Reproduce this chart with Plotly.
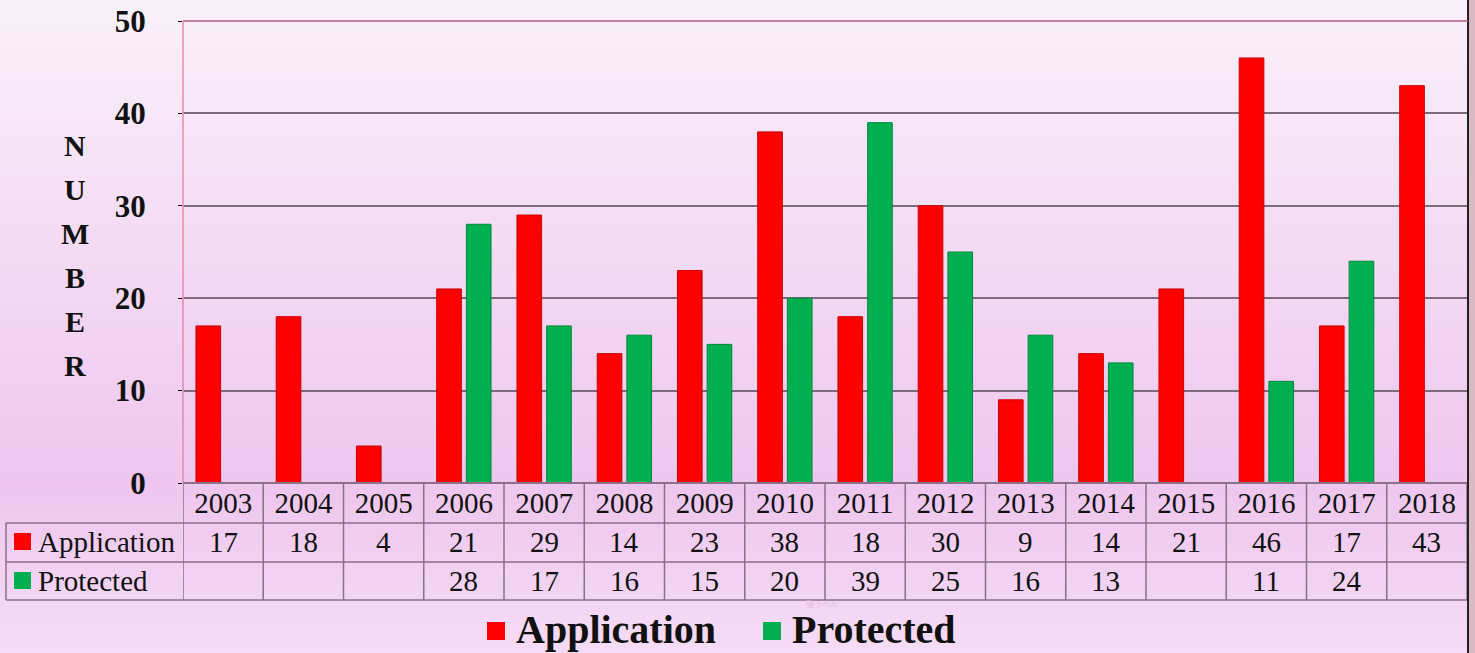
import plotly.graph_objects as go

years = ["2003", "2004", "2005", "2006", "2007", "2008", "2009", "2010",
         "2011", "2012", "2013", "2014", "2015", "2016", "2017", "2018"]
application = [17, 18, 4, 21, 29, 14, 23, 38, 18, 30, 9, 14, 21, 46, 17, 43]
protected = [None, None, None, 28, 17, 16, 15, 20, 39, 25, 16, 13, None, 11, 24, None]
y_ticks = [0, 10, 20, 30, 40, 50]
y_title = "NUMBER"

W, H = 1475, 653
L, R, T, B = 183, 1467, 21, 483
SERIF = "Liberation Serif"
RED, GREEN = "#ff0000", "#00b050"


def px2x(px):
    return (px - L) / (R - L)


def py2y(py):
    return (B - py) / (B - T)


def hexrgb(h):
    h = h.lstrip("#")
    return [int(h[i:i + 2], 16) for i in (0, 2, 4)]


def lerp_color(py):
    stops = [(0, "#faf1fa"), (483, "#eec6ee"), (653, "#f6dcf6")]
    for (y0, c0), (y1, c1) in zip(stops[:-1], stops[1:]):
        if y0 <= py <= y1:
            t = (py - y0) / (y1 - y0)
            a, b = hexrgb(c0), hexrgb(c1)
            return "rgb(%d,%d,%d)" % tuple(round(a[i] + (b[i] - a[i]) * t) for i in range(3))
    return stops[-1][1]


fig = go.Figure()
fig.add_trace(go.Bar(name="Application", x=years, y=application,
                     marker=dict(color=RED, line=dict(color="#c80000", width=1))))
fig.add_trace(go.Bar(name="Protected", x=years, y=protected,
                     marker=dict(color=GREEN, line=dict(color="#00883c", width=1))))

shapes = []
# background gradient strips
step = 7
for py in range(-7, H, step):
    shapes.append(dict(type="rect", xref="paper", yref="paper", layer="below",
                       x0=px2x(-2), x1=px2x(W + 2), y0=py2y(py + step + 0.5), y1=py2y(py),
                       fillcolor=lerp_color(max(py, 0) + step / 2), line=dict(width=0)))
# right photo edge
shapes.append(dict(type="rect", xref="paper", yref="paper", layer="above",
                   x0=px2x(1468), x1=px2x(W + 2), y0=py2y(H + 2), y1=py2y(-2),
                   fillcolor="#d9b9c3", line=dict(width=0)))
shapes.append(dict(type="line", xref="paper", yref="paper", layer="above",
                   x0=px2x(1468), x1=px2x(1468), y0=py2y(H + 2), y1=py2y(-2),
                   line=dict(color="#222222", width=2)))
# plot frame: top and left
shapes.append(dict(type="line", xref="paper", yref="paper", x0=0, x1=px2x(1468), y0=1, y1=1,
                   line=dict(color="#b85a7a", width=1.5)))
shapes.append(dict(type="line", xref="paper", yref="paper", x0=0, x1=0, y0=0, y1=1,
                   line=dict(color="#e88aac", width=1.5)))

GRID = "#8a7088"
n = len(years)
# table vertical lines
for i in range(n + 1):
    shapes.append(dict(type="line", xref="x", yref="paper", x0=i - 0.5, x1=i - 0.5,
                       y0=py2y(600), y1=py2y(483), line=dict(color=GRID, width=1.5)))
shapes.append(dict(type="line", xref="paper", yref="paper", x0=px2x(6), x1=px2x(6),
                   y0=py2y(600), y1=py2y(523), line=dict(color=GRID, width=1.5)))
# table horizontal lines
shapes.append(dict(type="line", xref="paper", yref="paper", x0=0, x1=1,
                   y0=0, y1=0, line=dict(color=GRID, width=2)))
for py in (523, 562, 600):
    shapes.append(dict(type="line", xref="paper", yref="paper", x0=px2x(6), x1=1,
                       y0=py2y(py), y1=py2y(py), line=dict(color=GRID, width=1.5)))

annotations = []
# table rows
rows = [("Application", application, RED, 542), ("Protected", protected, GREEN, 581)]
for name, vals, col, cy in rows:
    shapes.append(dict(type="rect", xref="paper", yref="paper",
                       x0=px2x(14), x1=px2x(31), y0=py2y(cy + 8), y1=py2y(cy - 9),
                       fillcolor=col, line=dict(width=0)))
    annotations.append(dict(text=name, xref="paper", yref="paper", x=px2x(36), y=py2y(cy),
                            xanchor="left", yanchor="middle", showarrow=False,
                            font=dict(family=SERIF, size=29, color="#111111")))
    for i, v in enumerate(vals):
        if v is None:
            continue
        annotations.append(dict(text=str(v), xref="x", yref="paper", x=i, y=py2y(cy),
                                xanchor="center", yanchor="middle", showarrow=False,
                                font=dict(family=SERIF, size=29, color="#111111")))

# y title stacked letters
for k, ch in enumerate(y_title):
    annotations.append(dict(text="<b>%s</b>" % ch, xref="paper", yref="paper",
                            x=px2x(75), y=py2y(145 + k * 44), xanchor="center", yanchor="middle",
                            showarrow=False, font=dict(family=SERIF, size=30, color="#111111")))

# legend
for name, col, sx in (("Application", RED, 487), ("Protected", GREEN, 763)):
    shapes.append(dict(type="rect", xref="paper", yref="paper",
                       x0=px2x(sx), x1=px2x(sx + 18), y0=py2y(640), y1=py2y(622),
                       fillcolor=col, line=dict(width=0)))
    annotations.append(dict(text="<b>%s</b>" % name, xref="paper", yref="paper",
                            x=px2x(sx + 28), y=py2y(629), xanchor="left", yanchor="middle",
                            showarrow=False, borderpad=0,
                            font=dict(family=SERIF, size=40, color="#111111")))

annotations.append(dict(text="軸ラベル", xref="paper", yref="paper", x=px2x(822), y=py2y(603),
                        xanchor="center", yanchor="middle", showarrow=False, borderpad=0,
                        font=dict(family="Noto Sans CJK JP", size=8, color="#e4bfe4")))

fig.update_layout(
    width=W, height=H,
    margin=dict(l=L, r=W - R, t=T, b=H - B, pad=0, autoexpand=False),
    paper_bgcolor="#f2d6f2", plot_bgcolor="rgba(0,0,0,0)",
    barmode="group", bargap=0.26, bargroupgap=0.17,
    showlegend=False,
    shapes=shapes, annotations=annotations,
    xaxis=dict(type="category", range=[-0.5, n - 0.5], showgrid=False, zeroline=False,
               showline=False, ticks="", tickfont=dict(family=SERIF, size=29, color="#111111"),
               ticklabelstandoff=0, automargin=False),
    yaxis=dict(range=[0, 50], tickvals=y_ticks, showgrid=True, gridcolor="#7d6a7d",
               gridwidth=1.5, zeroline=False, showline=False, ticks="outside", ticklen=4,
               tickcolor="#111111", automargin=False,
               tickfont=dict(family=SERIF, size=31, color="#111111", weight="bold"),
               ticklabelstandoff=26),
)

fig.write_html(
    "out.html",
    config={"displayModeBar": False},
    post_script="document.body.style.margin='0';document.body.style.padding='0';"
                "document.body.style.overflow='hidden';",
)
